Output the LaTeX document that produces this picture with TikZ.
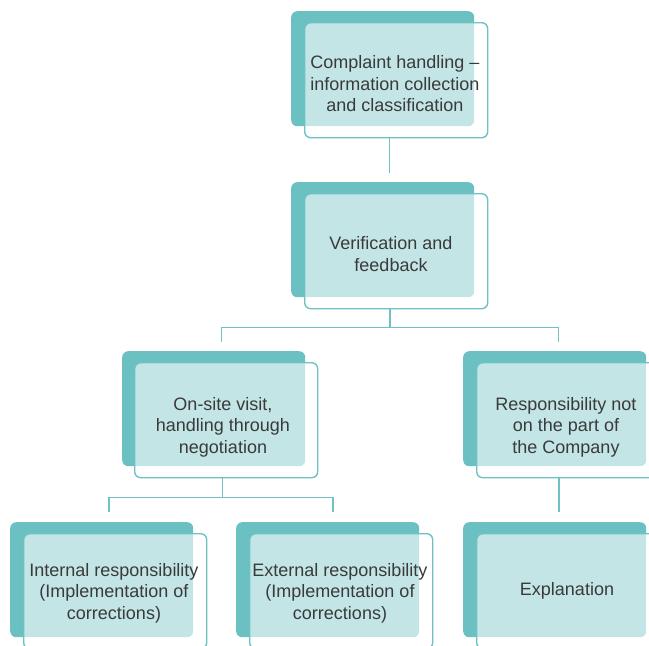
\documentclass[tikz,border=0pt]{standalone}
\usepackage{fontspec}
\setmainfont{Liberation Sans}
\usetikzlibrary{calc}
\definecolor{tealdark}{HTML}{6BC0C1}
\definecolor{tealline}{HTML}{6FC2C3}
\definecolor{txtgray}{HTML}{3A3A3A}
\tikzset{
  backbox/.style={fill=tealdark, rounded corners=6pt, minimum width=183pt,
    minimum height=115pt, inner sep=0pt, anchor=north west},
  frontbox/.style={draw=tealline, line width=1.4pt, fill=white, fill opacity=0.6,
    rounded corners=6pt, minimum width=183pt, minimum height=115pt,
    inner sep=0pt, anchor=north west},
  boxtext/.style={text=txtgray, align=center, inner sep=0pt,
    font=\fontsize{18}{21.5}\selectfont},
  link/.style={draw=tealline, line width=1.5pt},
}
\begin{document}
\begin{tikzpicture}[x=1pt,y=-1pt]
\useasboundingbox (0,0) rectangle (649,646);

% each step: dark back card, translucent outlined card offset to lower right, text
\node[backbox]  (b1) at (291,11) {};
\node[frontbox] (f1) at (304,22) {};
\node[boxtext]  (t1) at (395,84) {Complaint handling –\\information collection\\and classification};

\node[backbox]  (b2) at (291,182) {};
\node[frontbox] (f2) at (304,193) {};
\node[boxtext]  (t2) at (391,254) {Verification and\\feedback};

\node[backbox]  (b3) at (122,351) {};
\node[frontbox] (f3) at (134,362) {};
\node[boxtext]  (t3) at (223,427) {On-site visit,\\handling through\\negotiation};

\node[backbox]  (b4) at (463,351) {};
\node[frontbox] (f4) at (476,362) {};
\node[boxtext]  (t4) at (566,427) {Responsibility not\\on the part of\\the Company};

\node[backbox]  (b5) at (10,522) {};
\node[frontbox] (f5) at (23,533) {};
\node[boxtext]  (t5) at (114,593) {Internal responsibility\\(Implementation of\\corrections)};

\node[backbox]  (b6) at (236,522) {};
\node[frontbox] (f6) at (249,533) {};
\node[boxtext]  (t6) at (340,593) {External responsibility\\(Implementation of\\corrections)};

\node[backbox]  (b7) at (463,522) {};
\node[frontbox] (f7) at (476,533) {};
\node[boxtext]  (t7) at (567,591) {Explanation};

% connectors
\coordinate (e2) at ($(b2.north)+(7,-9)$);
\draw[link] (e2 |- f1.south) -- (e2);

\draw[link] ($(f2.south)+(-6,0)$) -- ++(0,18) coordinate (j2);
\draw[link] ($(b3.north)+(8,-9)$) |- (j2) -| ($(b4.north)+(4,-9)$);

\draw[link] ($(f3.south)+(-3.5,0)$) -- ++(0,19) coordinate (j3);
\draw[link] ($(b5.north)+(7.5,-10)$) |- (j3) -| ($(b6.north)+(5.5,-10)$);

\coordinate (e7) at ($(b7.north)+(4.5,-10)$);
\draw[link] (e7 |- f4.south) -- (e7);
\end{tikzpicture}
\end{document}
